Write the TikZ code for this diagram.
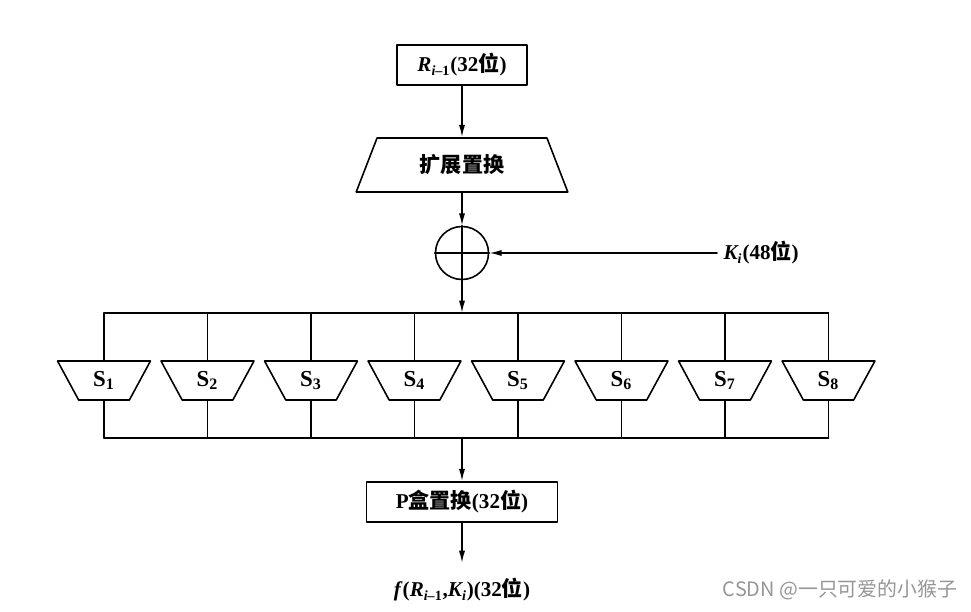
\documentclass[tikz,border=0pt]{standalone}
\usepackage{fontspec}
\setmainfont{Liberation Serif}
\newfontfamily\cjk{Noto Sans CJK SC}
\usetikzlibrary{arrows.meta,shapes.geometric}
\definecolor{wmgray}{RGB}{150,150,150}
\tikzstyle{every node}=[font=\bfseries\fontsize{12}{14}\selectfont]
\tikzstyle{every path}=[line width=0.9pt,line cap=round,line join=round]
\tikzstyle{blk}=[draw,rectangle,minimum height=0.8cm,inner sep=0pt]
\tikzstyle{expbox}=[draw,trapezium,trapezium angle=63,trapezium stretches=true,
  minimum width=4.24cm,minimum height=1.08cm,inner sep=0pt]
\tikzstyle{sbox}=[draw,trapezium,trapezium angle=64,trapezium stretches=true,
  shape border rotate=180,minimum width=1.86cm,minimum height=0.78cm,inner sep=0pt,
  font=\bfseries\fontsize{13}{15}\selectfont]
\tikzstyle{xorc}=[draw,circle,minimum size=1.06cm,inner sep=0pt]
\tikzstyle{arr}=[-{Latex[length=7pt,width=3.5pt]}]

\begin{document}
\begin{tikzpicture}
  \useasboundingbox (0,0) rectangle (19.42,12.24);
  \node[blk,minimum width=2.6cm] (rin) at (9.24,10.94)
       {\textit{R}\textsubscript{\textit{i}--1}(32{\cjk 位})};
  \node[expbox] (expand) at (9.24,8.94) {\cjk 扩展置换};
  \node[xorc] (xor) at (9.24,7.18) {};
  \draw (xor.north)--(xor.south) (xor.west)--(xor.east);
  \node[anchor=west] (key) at (14.34,7.18) {\textit{K\textsubscript{i}}(48{\cjk 位})};
  \coordinate (bt) at (9.24,5.98);
  \coordinate (bb) at (9.24,3.48);
  \foreach \i in {1,...,8}
    \node[sbox] (s\i) at ({2.08+2.07*(\i-1)},4.63) {S\textsubscript{\i}};
  \foreach \i in {1,...,8}
    \draw (s\i.north |- bt)--(s\i.north) (s\i.south)--(s\i.south |- bb);
  \draw (s1.north |- bt)--(s8.north |- bt) (s1.south |- bb)--(s8.south |- bb);
  \node[blk,minimum width=3.82cm] (pbox) at (9.24,2.2) {P{\cjk 盒置换}(32{\cjk 位})};
  \coordinate (fend) at (9.24,0.98);
  \node (fout) at (9.24,0.44)
       {\textit{f}(\textit{R}\textsubscript{\textit{i}--1},\textit{K\textsubscript{i}})(32{\cjk 位})};
  \node[font=\mdseries\fontsize{11.3}{13}\selectfont,text=wmgray] (wm) at (16.8,0.44)
       {\cjk CSDN @一只可爱的小猴子};
  \draw[arr] (rin)--(expand);
  \draw[arr] (expand)--(xor);
  \draw[arr] (key)--(xor);
  \draw[arr] (xor)--(bt);
  \draw[arr] (bb)--(pbox);
  \draw[arr] (pbox)--(fend);
\end{tikzpicture}
\end{document}
